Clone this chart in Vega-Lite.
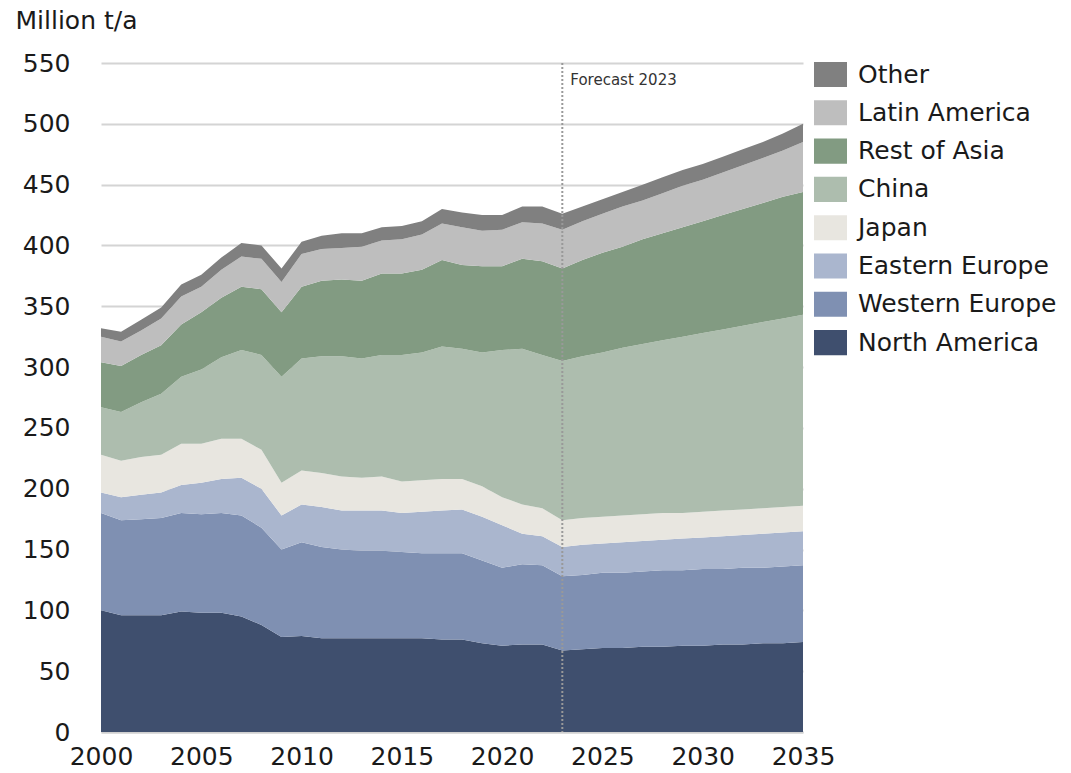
{
  "$schema": "https://vega.github.io/schema/vega-lite/v6.json",
  "width": 702,
  "height": 669,
  "autosize": "none",
  "padding": {"left": 101, "top": 63, "right": 268, "bottom": 41},
  "background": "white",
  "config": {"font": "DejaVu Sans", "view": {"stroke": null}},
  "datasets": {
    "regions": [
      {"region": "North America", "rank": 1},
      {"region": "Western Europe", "rank": 2},
      {"region": "Eastern Europe", "rank": 3},
      {"region": "Japan", "rank": 4},
      {"region": "China", "rank": 5},
      {"region": "Rest of Asia", "rank": 6},
      {"region": "Latin America", "rank": 7},
      {"region": "Other", "rank": 8}
    ],
    "production": [
      {"year": 2000, "North America": 100, "Western Europe": 80, "Eastern Europe": 17, "Japan": 31, "China": 39, "Rest of Asia": 37, "Latin America": 21, "Other": 7},
      {"year": 2001, "North America": 96, "Western Europe": 78, "Eastern Europe": 19, "Japan": 30, "China": 40, "Rest of Asia": 38, "Latin America": 20, "Other": 8},
      {"year": 2002, "North America": 96, "Western Europe": 79, "Eastern Europe": 20, "Japan": 31, "China": 45, "Rest of Asia": 39, "Latin America": 20, "Other": 9},
      {"year": 2003, "North America": 96, "Western Europe": 80, "Eastern Europe": 21, "Japan": 31, "China": 50, "Rest of Asia": 40, "Latin America": 22, "Other": 9},
      {"year": 2004, "North America": 99, "Western Europe": 81, "Eastern Europe": 23, "Japan": 34, "China": 55, "Rest of Asia": 43, "Latin America": 23, "Other": 10},
      {"year": 2005, "North America": 98, "Western Europe": 81, "Eastern Europe": 26, "Japan": 32, "China": 61, "Rest of Asia": 47, "Latin America": 21, "Other": 10},
      {"year": 2006, "North America": 98, "Western Europe": 82, "Eastern Europe": 28, "Japan": 33, "China": 67, "Rest of Asia": 49, "Latin America": 23, "Other": 10},
      {"year": 2007, "North America": 95, "Western Europe": 83, "Eastern Europe": 31, "Japan": 32, "China": 73, "Rest of Asia": 52, "Latin America": 25, "Other": 11},
      {"year": 2008, "North America": 88, "Western Europe": 80, "Eastern Europe": 32, "Japan": 32, "China": 78, "Rest of Asia": 54, "Latin America": 25, "Other": 11},
      {"year": 2009, "North America": 78, "Western Europe": 72, "Eastern Europe": 28, "Japan": 27, "China": 87, "Rest of Asia": 53, "Latin America": 25, "Other": 11},
      {"year": 2010, "North America": 79, "Western Europe": 77, "Eastern Europe": 31, "Japan": 28, "China": 92, "Rest of Asia": 59, "Latin America": 27, "Other": 10},
      {"year": 2011, "North America": 77, "Western Europe": 75, "Eastern Europe": 33, "Japan": 28, "China": 96, "Rest of Asia": 62, "Latin America": 26, "Other": 11},
      {"year": 2012, "North America": 77, "Western Europe": 73, "Eastern Europe": 32, "Japan": 28, "China": 99, "Rest of Asia": 63, "Latin America": 26, "Other": 12},
      {"year": 2013, "North America": 77, "Western Europe": 72, "Eastern Europe": 33, "Japan": 27, "China": 98, "Rest of Asia": 64, "Latin America": 28, "Other": 11},
      {"year": 2014, "North America": 77, "Western Europe": 72, "Eastern Europe": 33, "Japan": 28, "China": 100, "Rest of Asia": 67, "Latin America": 27, "Other": 11},
      {"year": 2015, "North America": 77, "Western Europe": 71, "Eastern Europe": 32, "Japan": 26, "China": 104, "Rest of Asia": 67, "Latin America": 28, "Other": 11},
      {"year": 2016, "North America": 77, "Western Europe": 70, "Eastern Europe": 34, "Japan": 26, "China": 105, "Rest of Asia": 68, "Latin America": 29, "Other": 11},
      {"year": 2017, "North America": 76, "Western Europe": 71, "Eastern Europe": 35, "Japan": 26, "China": 109, "Rest of Asia": 71, "Latin America": 30, "Other": 12},
      {"year": 2018, "North America": 76, "Western Europe": 71, "Eastern Europe": 36, "Japan": 25, "China": 107, "Rest of Asia": 69, "Latin America": 31, "Other": 12},
      {"year": 2019, "North America": 73, "Western Europe": 68, "Eastern Europe": 36, "Japan": 25, "China": 110, "Rest of Asia": 71, "Latin America": 29, "Other": 13},
      {"year": 2020, "North America": 71, "Western Europe": 64, "Eastern Europe": 35, "Japan": 23, "China": 121, "Rest of Asia": 69, "Latin America": 30, "Other": 12},
      {"year": 2021, "North America": 72, "Western Europe": 66, "Eastern Europe": 25, "Japan": 24, "China": 128, "Rest of Asia": 74, "Latin America": 30, "Other": 13},
      {"year": 2022, "North America": 72, "Western Europe": 65, "Eastern Europe": 24, "Japan": 23, "China": 126, "Rest of Asia": 77, "Latin America": 31, "Other": 14},
      {"year": 2023, "North America": 67, "Western Europe": 61, "Eastern Europe": 24, "Japan": 22, "China": 131, "Rest of Asia": 76, "Latin America": 32, "Other": 13},
      {"year": 2024, "North America": 68, "Western Europe": 61, "Eastern Europe": 25, "Japan": 22, "China": 133, "Rest of Asia": 79, "Latin America": 32, "Other": 12},
      {"year": 2025, "North America": 69, "Western Europe": 62, "Eastern Europe": 24, "Japan": 22, "China": 135, "Rest of Asia": 82, "Latin America": 32, "Other": 12},
      {"year": 2026, "North America": 69, "Western Europe": 62, "Eastern Europe": 25, "Japan": 22, "China": 138, "Rest of Asia": 83, "Latin America": 33, "Other": 12},
      {"year": 2027, "North America": 70, "Western Europe": 62, "Eastern Europe": 25, "Japan": 22, "China": 140, "Rest of Asia": 86, "Latin America": 32, "Other": 13},
      {"year": 2028, "North America": 70, "Western Europe": 63, "Eastern Europe": 25, "Japan": 22, "China": 142, "Rest of Asia": 88, "Latin America": 33, "Other": 13},
      {"year": 2029, "North America": 71, "Western Europe": 62, "Eastern Europe": 26, "Japan": 21, "China": 145, "Rest of Asia": 90, "Latin America": 34, "Other": 13},
      {"year": 2030, "North America": 71, "Western Europe": 63, "Eastern Europe": 26, "Japan": 21, "China": 147, "Rest of Asia": 92, "Latin America": 34, "Other": 13},
      {"year": 2031, "North America": 72, "Western Europe": 62, "Eastern Europe": 27, "Japan": 21, "China": 149, "Rest of Asia": 94, "Latin America": 35, "Other": 13},
      {"year": 2032, "North America": 72, "Western Europe": 63, "Eastern Europe": 27, "Japan": 21, "China": 151, "Rest of Asia": 96, "Latin America": 36, "Other": 13},
      {"year": 2033, "North America": 73, "Western Europe": 62, "Eastern Europe": 28, "Japan": 21, "China": 153, "Rest of Asia": 98, "Latin America": 37, "Other": 13},
      {"year": 2034, "North America": 73, "Western Europe": 63, "Eastern Europe": 28, "Japan": 21, "China": 155, "Rest of Asia": 100, "Latin America": 38, "Other": 14},
      {"year": 2035, "North America": 74, "Western Europe": 63, "Eastern Europe": 28, "Japan": 21, "China": 157, "Rest of Asia": 101, "Latin America": 41, "Other": 15}
    ]
  },
  "layer": [
    {
      "data": {"name": "production"},
      "transform": [
        {"fold": ["North America", "Western Europe", "Eastern Europe", "Japan", "China", "Rest of Asia", "Latin America", "Other"], "as": ["region", "value"]},
        {"lookup": "region", "from": {"data": {"name": "regions"}, "key": "region", "fields": ["rank"]}}
      ],
      "mark": {"type": "area", "interpolate": "linear", "strokeWidth": 0},
      "encoding": {
        "x": {
          "field": "year", "type": "quantitative",
          "scale": {"domain": [2000, 2035], "nice": false, "zero": false},
          "axis": {
            "values": [2000, 2005, 2010, 2015, 2020, 2025, 2030, 2035],
            "format": "d", "title": null, "grid": false, "ticks": false,
            "domain": true, "domainColor": "#d0d0d0", "domainWidth": 2,
            "labelFontSize": 25, "labelColor": "#1a1a1a", "labelPadding": 12,
            "labelFlush": false, "labelOverlap": false
          }
        },
        "y": {
          "field": "value", "type": "quantitative", "stack": "zero",
          "scale": {"domain": [0, 550], "nice": false},
          "axis": {
            "values": [0, 50, 100, 150, 200, 250, 300, 350, 400, 450, 500, 550],
            "grid": true, "gridColor": "#d4d4d4", "gridWidth": 2,
            "domain": false, "ticks": false,
            "labelFontSize": 25, "labelColor": "#1a1a1a", "labelPadding": 31,
            "title": "Million t/a", "titleAngle": 0, "titleAlign": "left",
            "titleBaseline": "alphabetic", "titleX": -86, "titleY": -35,
            "titleFontSize": 25, "titleFontWeight": "normal", "titleColor": "#1a1a1a"
          }
        },
        "color": {
          "field": "region", "type": "nominal",
          "scale": {
            "domain": ["Other", "Latin America", "Rest of Asia", "China", "Japan", "Eastern Europe", "Western Europe", "North America"],
            "range": ["#808080", "#bebebe", "#829b82", "#adbdae", "#e8e6e0", "#aab6ce", "#7f90b2", "#3f4f6e"]
          },
          "legend": {
            "orient": "none", "legendX": 713, "legendY": -5, "title": null,
            "padding": 0, "symbolType": "M-1,-0.76H1V0.76H-1Z", "symbolSize": 1089,
            "symbolStrokeWidth": 0, "symbolOpacity": 1,
            "labelFontSize": 25, "labelColor": "#1a1a1a", "labelOffset": 11,
            "rowPadding": 8.3, "labelLimit": 300
          }
        },
        "order": {"field": "rank", "type": "quantitative", "sort": "ascending"}
      }
    },
    {
      "data": {"values": [{"year": 2023}]},
      "mark": {"type": "rule", "color": "#999999", "strokeWidth": 2, "strokeDash": [2, 2]},
      "encoding": {"x": {"field": "year", "type": "quantitative"}}
    },
    {
      "data": {"values": [{"note": "Forecast 2023"}]},
      "mark": {"type": "text", "align": "left", "baseline": "middle", "dx": 8, "fontSize": 15, "color": "#333333"},
      "encoding": {
        "x": {"datum": 2023, "type": "quantitative"},
        "y": {"datum": 536, "type": "quantitative"},
        "text": {"field": "note"}
      }
    }
  ]
}
